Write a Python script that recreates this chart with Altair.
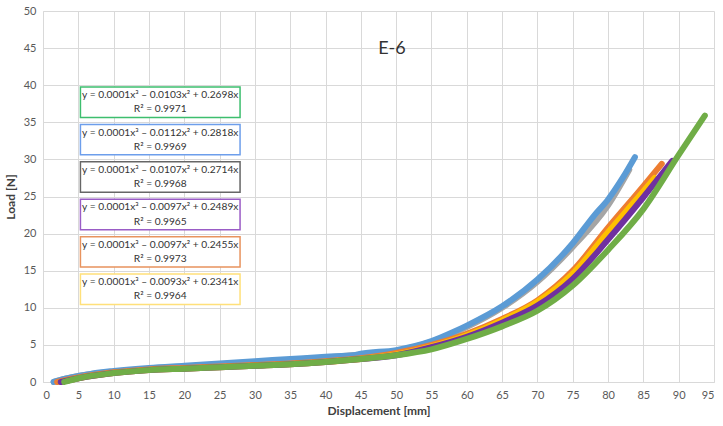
import altair as alt
import pandas as pd

# Load (N) against displacement (mm) for the six E-6 specimens
blue_x = [1.5, 3, 5, 8, 10, 15, 20, 25, 30, 35, 40, 44, 45, 50, 55, 58, 60, 65, 70, 75, 78, 80, 82, 83.8]
blue_y = [0.0, 0.4, 0.8, 1.3, 1.5, 1.9, 2.2, 2.5, 2.8, 3.1, 3.4, 3.6, 3.8, 4.3, 5.5, 6.7, 7.6, 10.2, 13.8, 18.7, 22.4, 24.6, 27.4, 30.3]

orange_x = [2, 5, 10, 15, 20, 25, 30, 35, 40, 45, 50, 55, 60, 65, 70, 75, 80, 85, 87.6]
orange_y = [0.0, 0.6, 1.3, 1.7, 1.9, 2.1, 2.3, 2.5, 2.8, 3.2, 3.9, 5.0, 6.5, 8.5, 11.0, 15.0, 20.8, 26.4, 29.4]

gray_x = [1.5, 3, 5, 8, 10, 15, 20, 25, 30, 35, 40, 45, 50, 55, 60, 65, 70, 75, 80, 83]
gray_y = [0.0, 0.4, 0.8, 1.2, 1.4, 1.8, 2.1, 2.4, 2.7, 3.0, 3.3, 3.7, 4.2, 5.4, 7.4, 10.0, 13.5, 18.2, 23.8, 28.6]

yellow_x = [2.5, 5, 10, 15, 20, 25, 30, 35, 40, 45, 50, 55, 60, 65, 70, 75, 80, 85, 86.6]
yellow_y = [0.0, 0.5, 1.2, 1.6, 1.8, 2.0, 2.2, 2.4, 2.7, 3.1, 3.7, 4.8, 6.3, 8.3, 10.8, 14.6, 20.2, 25.7, 27.5]

purple_x = [2.5, 5, 10, 15, 20, 25, 30, 35, 40, 45, 50, 55, 60, 65, 70, 75, 80, 85, 89.1]
purple_y = [0.0, 0.5, 1.2, 1.6, 1.8, 2.0, 2.2, 2.4, 2.7, 3.1, 3.6, 4.7, 6.1, 8.0, 10.3, 13.9, 19.2, 24.9, 29.8]

green_x = [3, 5, 10, 15, 20, 25, 30, 35, 40, 45, 50, 55, 60, 65, 70, 75, 80, 85, 90, 93.7]
green_y = [0.0, 0.5, 1.2, 1.6, 1.8, 2.0, 2.2, 2.4, 2.7, 3.1, 3.6, 4.4, 5.8, 7.5, 9.6, 13.0, 17.8, 23.3, 30.6, 35.9]

# Cubic trendline labels, listed top to bottom
equations = [
    "y = 0.0001x³ – 0.0103x² + 0.2698x",
    "y = 0.0001x³ – 0.0112x² + 0.2818x",
    "y = 0.0001x³ – 0.0107x² + 0.2714x",
    "y = 0.0001x³ – 0.0097x² + 0.2489x",
    "y = 0.0001x³ – 0.0097x² + 0.2455x",
    "y = 0.0001x³ – 0.0093x² + 0.2341x",
]
r_squared = ["R² = 0.9971", "R² = 0.9969", "R² = 0.9968", "R² = 0.9965", "R² = 0.9973", "R² = 0.9964"]
label_borders = ["#3DBE6E", "#6D9EEB", "#666666", "#9A5CC6", "#E8935E", "#FFE07A"]

x_ticks = list(range(0, 100, 5))
y_ticks = list(range(0, 55, 5))

# drawing order: later entries sit on top
series = [
    ("S3", gray_x, gray_y, "#A5A5A5"),
    ("S1", blue_x, blue_y, "#5B9BD5"),
    ("S2", orange_x, orange_y, "#ED7D31"),
    ("S4", yellow_x, yellow_y, "#FFC000"),
    ("S5", purple_x, purple_y, "#7030A0"),
    ("S6", green_x, green_y, "#70AD47"),
]

FONT = "Lato"
x_scale = alt.Scale(domain=[0, 95], nice=False, zero=True)
y_scale = alt.Scale(domain=[0, 50], nice=False, zero=True)
x_axis = alt.Axis(values=x_ticks, title="Displacement [mm]", grid=True, titlePadding=5,
                  labelOverlap=False)
y_axis = alt.Axis(values=y_ticks, title="Load [N]", grid=True, titlePadding=6,
                  labelOverlap=False)


def xe(field):
    return alt.X(field, type="quantitative", scale=x_scale, axis=x_axis)


def ye(field):
    return alt.Y(field, type="quantitative", scale=y_scale, axis=y_axis)


layers = []
for name, xs, ys, col in series:
    df = pd.DataFrame({"x": xs, "y": ys, "s": name})
    layers.append(
        alt.Chart(df).mark_line(
            color=col, strokeWidth=6, strokeCap="round", strokeJoin="round",
            interpolate="monotone",
        ).encode(x=xe("x"), y=ye("y"))
    )

# Trendline label boxes, stacked at a fixed step in load units
BOX_X0, BOX_X1 = 5.3, 27.9
BOX_TOP_CENTER, BOX_STEP, BOX_HALF = 37.7, 5.04, 2.05
rows = []
for i, (eq, r2, bc) in enumerate(zip(equations, r_squared, label_borders)):
    c = BOX_TOP_CENTER - i * BOX_STEP
    rows.append({
        "x": BOX_X0, "x2": BOX_X1, "y": c - BOX_HALF, "y2": c + BOX_HALF,
        "xm": (BOX_X0 + BOX_X1) / 2, "yl1": c + 0.95, "yl2": c - 0.95,
        "eq": eq, "r2": r2, "bc": bc,
    })
boxes = pd.DataFrame(rows)

box_layer = alt.Chart(boxes).mark_rect(fill="white", strokeWidth=1.5).encode(
    x=xe("x"), x2="x2:Q", y=ye("y"), y2="y2:Q",
    stroke=alt.Stroke("bc:N", scale=None),
)
eq_layer = alt.Chart(boxes).mark_text(
    font=FONT, fontSize=10.2, color="#333333", baseline="middle", align="center"
).encode(x=xe("xm"), y=ye("yl1"), text="eq:N")
r2_layer = alt.Chart(boxes).mark_text(
    font=FONT, fontSize=10.2, color="#333333", baseline="middle", align="center"
).encode(x=xe("xm"), y=ye("yl2"), text="r2:N")

title_df = pd.DataFrame({"x": [49.4], "y": [44.9], "t": ["E-6"]})
title_layer = alt.Chart(title_df).mark_text(
    font=FONT, fontSize=18, color="#333333", baseline="middle", align="center"
).encode(x=xe("x"), y=ye("y"), text="t:N")

chart = alt.layer(*layers, box_layer, eq_layer, r2_layer, title_layer).properties(
    width=671, height=371,
    padding={"left": 43, "top": 11, "right": 9, "bottom": 44},
    autosize=alt.AutoSizeParams(type="none"),
    background="white",
).configure_view(stroke=None).configure_axis(
    labelFont=FONT, labelFontSize=11, labelColor="#595959", labelPadding=7,
    labelOverlap=False,
    titleFont=FONT, titleFontSize=12, titleFontWeight="bold", titleColor="#404040",
    gridColor="#D9D9D9", gridWidth=1, domainColor="#D9D9D9", domainWidth=1,
    ticks=False,
)

chart.save("out.html", embed_options={"renderer": "svg", "actions": False})
